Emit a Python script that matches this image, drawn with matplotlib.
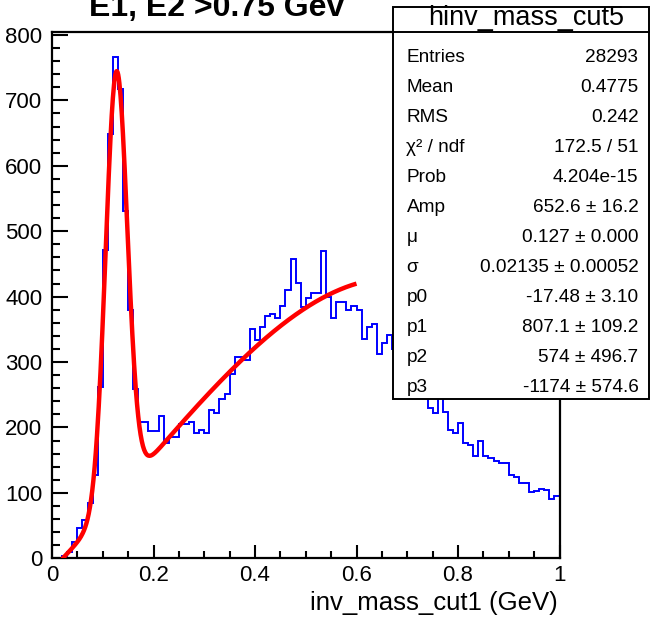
import numpy as np
import matplotlib
matplotlib.use('Agg')
import matplotlib.pyplot as plt
from matplotlib.patches import Rectangle
from matplotlib.lines import Line2D

plt.rcParams['font.family'] = ['Liberation Sans', 'DejaVu Sans']

# ---- data ----
x_range = (0.0, 1.0)
n_bins = 100
counts = [0, 0, 3, 9, 25, 46, 58, 85, 127, 262,
          471, 649, 767, 717, 531, 380, 259, 208, 208, 194,
          194, 217, 176, 186, 186, 205, 205, 209, 192, 196,
          192, 226, 222, 243, 251, 282, 307, 307, 303, 351,
          334, 354, 370, 374, 368, 385, 410, 457, 421, 384,
          398, 406, 406, 470, 399, 367, 391, 391, 380, 385,
          380, 335, 354, 358, 312, 329, 341, 320, 300, 310,
          290, 272, 278, 255, 229, 222, 250, 223, 196, 191,
          207, 176, 173, 156, 180, 156, 154, 149, 146, 145,
          128, 124, 115, 115, 102, 103, 106, 105, 91, 95]

fit_amp, fit_mu, fit_sigma = 652.6, 0.127, 0.02135
fit_p0, fit_p1, fit_p2, fit_p3 = -17.48, 807.1, 574.0, -1174.0
fit_range = (0.02, 0.6)

title = "E1, E2 >0.75 Gev"
x_title = "inv_mass_cut1 (GeV)"
stats_name = "hinv_mass_cut5"
stats_labels = ['Entries', 'Mean', 'RMS', 'χ² / ndf', 'Prob', 'Amp', 'μ', 'σ',
                'p0', 'p1', 'p2', 'p3']
stats_values = ['28293', '0.4775', '0.242', '172.5 / 51', '4.204e-15',
                '652.6 ± 16.2', '0.127 ± 0.000', '0.02135 ± 0.00052',
                '-17.48 ± 3.10', '807.1 ± 109.2', '574 ± 496.7', '-1174 ± 574.6']

# ---- figure ----
W, H = 650, 617
fig = plt.figure(figsize=(W / 100, H / 100), dpi=100)
fig.patch.set_facecolor('white')


def fx(px):
    return px / W


def fy(py):
    return 1 - py / H


ax = fig.add_axes([fx(52), fy(558.3), fx(559.5) - fx(52), fy(32.3) - fy(558.3)])
edges = np.linspace(x_range[0], x_range[1], n_bins + 1)
ax.stairs(counts, edges, color='#0000ff', lw=1.4, zorder=2)

xf = np.linspace(fit_range[0], fit_range[1], 500)
yf = (fit_amp * np.exp(-0.5 * ((xf - fit_mu) / fit_sigma) ** 2)
      + fit_p0 + fit_p1 * xf + fit_p2 * xf ** 2 + fit_p3 * xf ** 3)
ax.plot(xf, yf, color='#ff0000', lw=3.2, zorder=3, solid_capstyle='butt')

ax.set_xlim(0, 1)
ax.set_ylim(0, 804)
ax.set_xticks([0, 0.2, 0.4, 0.6, 0.8, 1.0])
ax.set_xticklabels(['0', '0.2', '0.4', '0.6', '0.8', '1'])
ax.set_xticks(np.arange(0, 1.0001, 0.05), minor=True)
ax.set_yticks(np.arange(0, 801, 100))
ax.set_yticks(np.arange(0, 801, 20), minor=True)
for s in ax.spines.values():
    s.set_linewidth(1.6)
ax.tick_params(axis='y', which='major', direction='in', length=11.5, width=1.5,
               labelsize=16, pad=7)
ax.tick_params(axis='y', which='minor', direction='in', length=5.8, width=1.5)
ax.tick_params(axis='x', which='major', direction='in', length=9.5, width=1.5,
               labelsize=16, pad=5)
ax.tick_params(axis='x', which='minor', direction='in', length=5, width=1.5)

# title & axis title
fig.text(fx(216.5), fy(16), title, ha='center', va='baseline',
         fontsize=23, fontweight='bold')
fig.text(fx(558), fy(610), x_title, ha='right', va='baseline', fontsize=18.5)

# stats box
bx0, bx1, by0, by1 = 393, 649, 6.7, 399
fig.add_artist(Rectangle((fx(bx0), fy(by1)), fx(bx1) - fx(bx0), fy(by0) - fy(by1),
                         transform=fig.transFigure, facecolor='white',
                         edgecolor='black', lw=1.4, zorder=5))
fig.add_artist(Line2D([fx(bx0), fx(bx1)], [fy(31.7), fy(31.7)],
                      transform=fig.transFigure, color='black', lw=1.4, zorder=6))
fig.text(fx(526), fy(25), stats_name, ha='center', va='baseline',
         fontsize=19.5, zorder=7)
for i, (lab, val) in enumerate(zip(stats_labels, stats_values)):
    base = 61.8 + 30 * i
    fig.text(fx(406.5), fy(base), lab, ha='left', va='baseline',
             fontsize=13.7, zorder=7)
    fig.text(fx(638.5), fy(base), val, ha='right', va='baseline',
             fontsize=13.7, zorder=7)

fig.savefig('out.png', dpi=100, facecolor='white')
